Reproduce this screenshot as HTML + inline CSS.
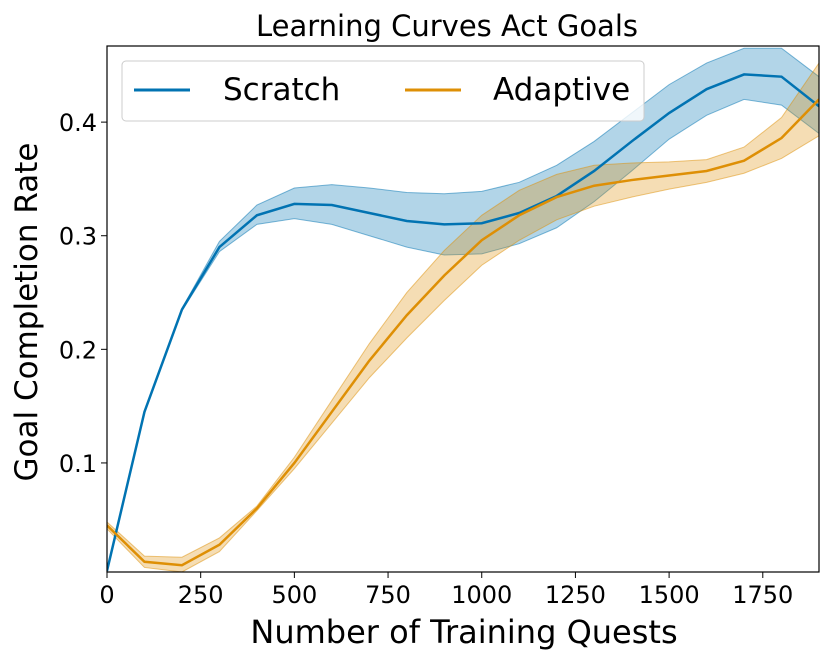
<!DOCTYPE html>
<html><head><meta charset="utf-8"><style>
body{margin:0;background:#fff;}
svg{font-family:"DejaVu Sans","Liberation Sans",sans-serif;}
</style></head><body>
<svg width="831" height="662">
<g id="plot"></g>
</svg>
<script>
const xs=[0,100,200,300,400,500,600,700,800,900,1000,1100,1200,1300,1400,1500,1600,1700,1800,1900];
const scratchMean=[0.005,0.145,0.235,0.29,0.318,0.328,0.327,0.32,0.313,0.31,0.311,0.32,0.335,0.357,0.383,0.408,0.429,0.442,0.44,0.414];
const scratchLow=[0.004,0.144,0.234,0.286,0.31,0.315,0.31,0.3,0.29,0.283,0.284,0.293,0.307,0.33,0.357,0.385,0.406,0.42,0.415,0.39];
const scratchHigh=[0.006,0.146,0.236,0.295,0.327,0.342,0.345,0.342,0.338,0.337,0.339,0.347,0.362,0.383,0.408,0.433,0.452,0.465,0.465,0.44];
const adaptMean=[0.045,0.013,0.01,0.028,0.06,0.1,0.145,0.19,0.23,0.265,0.296,0.318,0.334,0.344,0.349,0.353,0.357,0.366,0.386,0.42];
const adaptLow=[0.042,0.008,0.004,0.022,0.058,0.095,0.135,0.175,0.21,0.243,0.274,0.296,0.314,0.326,0.334,0.341,0.347,0.355,0.368,0.388];
const adaptHigh=[0.048,0.018,0.017,0.034,0.062,0.105,0.155,0.205,0.25,0.287,0.318,0.34,0.354,0.362,0.364,0.365,0.367,0.378,0.404,0.452];
const xTicks=[0,250,500,750,1000,1250,1500,1750];
const yTicks=[0.1,0.2,0.3,0.4];
const L=107,R=819,T=46,B=572,xmin=0,xmax=1900,ymin=0.004,ymax=0.467;
const X=v=>L+(v-xmin)/(xmax-xmin)*(R-L);
const Y=v=>B-(v-ymin)/(ymax-ymin)*(B-T);
const svg=document.querySelector('svg');const NS='http://www.w3.org/2000/svg';
function mk(t,a,p){const e=document.createElementNS(NS,t);for(const k in a)e.setAttribute(k,a[k]);(p||svg).appendChild(e);return e;}
const clip=mk('clipPath',{id:'c'});mk('rect',{x:L,y:T,width:R-L,height:B-T},clip);
const g=mk('g',{'clip-path':'url(#c)'});
function band(lo,hi,col,name){let d='M'+xs.map((x,i)=>X(x)+','+Y(hi[i])).join('L');
d+='L'+xs.slice().reverse().map((x,j)=>{const i=xs.length-1-j;return X(x)+','+Y(lo[i]);}).join('L')+'Z';
const e=mk('path',{d:d,fill:col,'fill-opacity':0.3,stroke:col,'stroke-opacity':0.5,'stroke-width':1},g);

}
function line(m,col,name){const e=mk('path',{d:'M'+xs.map((x,i)=>X(x)+','+Y(m[i])).join('L'),fill:'none',stroke:col,'stroke-width':2.5},g);

}
band(scratchLow,scratchHigh,'#0173B2','scratch-band');
band(adaptLow,adaptHigh,'#DE8F05','adaptive-band');
line(scratchMean,'#0173B2','scratch-line');
line(adaptMean,'#DE8F05','adaptive-line');
const fr=mk('rect',{x:L,y:T,width:R-L,height:B-T,fill:'none',stroke:'#000','stroke-width':1.2});


xTicks.forEach(v=>{mk('line',{x1:X(v),x2:X(v),y1:B,y2:B+6,stroke:'#000'});
const t=mk('text',{x:X(v),y:B+31,'text-anchor':'middle','font-size':24});t.textContent=v;

});
yTicks.forEach(v=>{mk('line',{x1:L-6,x2:L,y1:Y(v),y2:Y(v),stroke:'#000'});
const t=mk('text',{x:L-10,y:Y(v)+9,'text-anchor':'end','font-size':24});t.textContent=v.toFixed(1);

});
</script>
<svg style="position:absolute;left:0;top:0" width="831" height="662">
<text x="447" y="36" text-anchor="middle" font-size="29" font-family="DejaVu Sans, Liberation Sans, sans-serif">Learning Curves Act Goals</text>
<text x="464" y="643" text-anchor="middle" font-size="32" font-family="DejaVu Sans, Liberation Sans, sans-serif">Number of Training Quests</text>
<text transform="translate(37,312) rotate(-90)" text-anchor="middle" font-size="31" font-family="DejaVu Sans, Liberation Sans, sans-serif">Goal Completion Rate</text>
<g font-family="DejaVu Sans, Liberation Sans, sans-serif">
<rect x="122" y="61" width="522" height="60" rx="4" fill="#fff" fill-opacity="0.8" stroke="#ccc"/>
<line x1="134" x2="190" y1="90" y2="90" stroke="#0173B2" stroke-width="3"/>
<text x="223" y="100" font-size="31">Scratch</text>
<line x1="405" x2="461" y1="90" y2="90" stroke="#DE8F05" stroke-width="3"/>
<text x="493" y="100" font-size="31">Adaptive</text>
</g>
</svg>
</body></html>
